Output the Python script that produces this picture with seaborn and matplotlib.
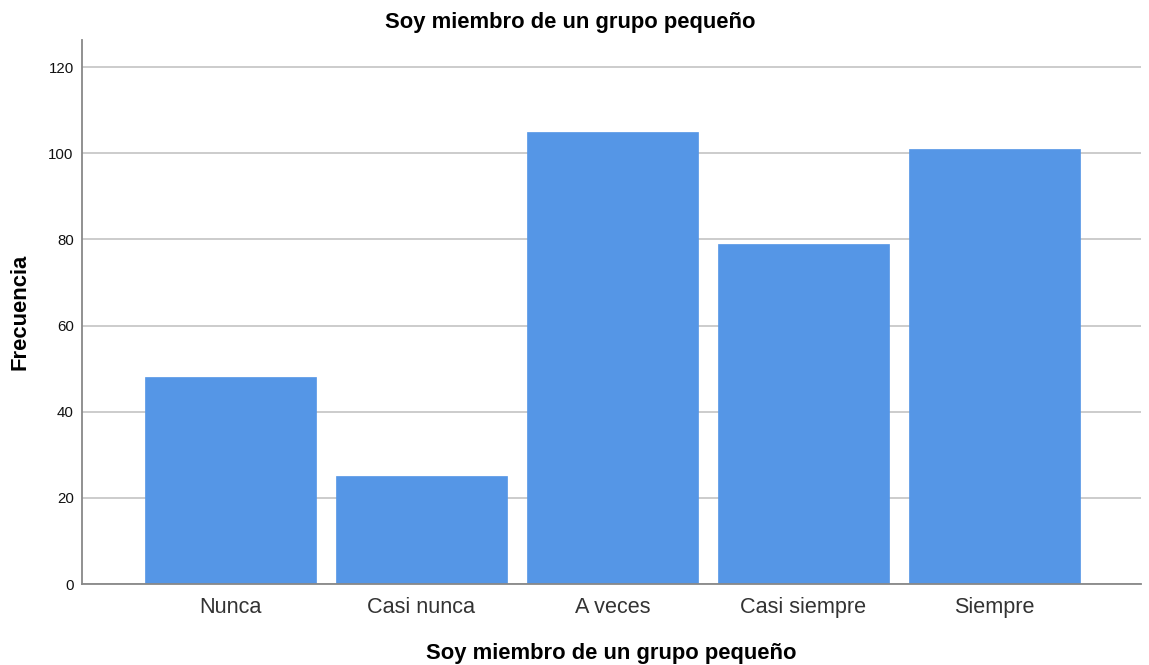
import matplotlib
matplotlib.use("Agg")
import matplotlib.pyplot as plt
import seaborn as sns
import pandas as pd

categories = ["Nunca", "Casi nunca", "A veces", "Casi siempre", "Siempre"]
frequencies = [48, 25, 105, 79, 101]
y_ticks = [0, 20, 40, 60, 80, 100, 120]

title = "Soy miembro de un grupo pequeño"
x_label = "Soy miembro de un grupo pequeño"
y_label = "Frecuencia"

sns.set_theme(style="white")
plt.rcParams["font.family"] = ["Liberation Sans", "DejaVu Sans"]

df = pd.DataFrame({"cat": categories, "freq": frequencies})

fig = plt.figure(figsize=(11.49, 6.65), dpi=100)
ax = fig.add_axes([0.0714, 0.1218, 0.9216, 0.818])

ax.yaxis.grid(True, color="#c8c8c8", linewidth=1.3, zorder=0)
ax.set_axisbelow(True)

sns.barplot(data=df, x="cat", y="freq", order=categories, color="#5596E6",
            saturation=1, width=0.895, edgecolor="#5596E6", linewidth=0.5,
            ax=ax, zorder=2)

ax.set_xlim(-0.777, 4.767)
ax.set_ylim(0, 126.3)
ax.set_yticks(y_ticks)
ax.set_yticklabels([str(v) for v in y_ticks], fontsize=10.8, color="#111111")
ax.tick_params(axis="x", labelsize=15.6, length=0, pad=9)
ax.tick_params(axis="y", length=0, pad=6)
for lab in ax.get_xticklabels():
    lab.set_color("#333333")

for side in ["top", "right"]:
    ax.spines[side].set_visible(False)
for side in ["left", "bottom"]:
    ax.spines[side].set_color("#888888")
    ax.spines[side].set_linewidth(1.3)

fig.text(0.496, 0.966, title, fontsize=15.8, fontweight="bold",
         ha="center", va="center", color="#000000")
ax.set_xlabel(x_label, fontsize=15.8, fontweight="bold", labelpad=18,
              color="#000000")
ax.set_ylabel(y_label, fontsize=15.8, fontweight="bold", labelpad=13,
              color="#000000")

fig.savefig("out.png", dpi=100)
